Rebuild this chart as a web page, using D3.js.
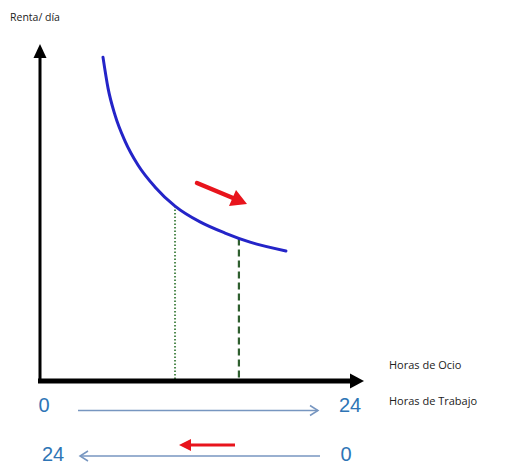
<!DOCTYPE html>
<html>
<head>
<meta charset="utf-8">
<script src="https://cdn.jsdelivr.net/npm/d3@7"></script>
<style>
  body { margin: 0; background: #fff; }
  svg { display: block; }
</style>
</head>
<body>
<div id="svg_container"></div>
<script>
// indifference curve (hours of leisure vs income index)
var curveHours = [4.86, 5.25, 5.79, 6.56, 7.56, 8.87, 10.42, 12.35, 14.28, 16.21, 18.98];
var curveIncome = [96.1, 86.9, 78.9, 71.2, 64.1, 57.6, 51.9, 47.2, 43.9, 41.2, 38.6];

// the two chosen points (dotted and dashed drop lines)
var dropHours = [10.42, 15.35];
var dropStyle = ['dotted', 'dashed'];

var ocioTicks = [0, 24];
var trabajoTicks = [24, 0];

var width = 506, height = 468;

var svg = d3.select('#svg_container')
  .append('svg')
    .attr('width', width)
    .attr('height', height);

var x = d3.scaleLinear().domain([0, 24]).range([40, 351]);
var y = d3.scaleLinear().domain([0, 100]).range([381, 44]);

var curveData = curveHours.map(function(h, i) { return { h: h, v: curveIncome[i] }; });

var line = d3.line()
    .x(function(d) { return x(d.h); })
    .y(function(d) { return y(d.v); })
    .curve(d3.curveMonotoneX);

var path = svg.append('path')
    .datum(curveData)
    .attr('fill', 'none')
    .attr('stroke', '#2424c8')
    .attr('stroke-width', 3)
    .attr('stroke-linecap', 'round')
    .attr('d', line);

// height of the drawn curve at a given pixel x
function curveYAt(px) {
  var node = path.node(), len = node.getTotalLength();
  var lo = 0, hi = len;
  for (var k = 0; k < 40; k++) {
    var mid = (lo + hi) / 2;
    if (node.getPointAtLength(mid).x < px) lo = mid; else hi = mid;
  }
  return node.getPointAtLength(lo).y;
}

// drop lines
svg.append('g')
  .selectAll('line')
  .data(dropHours)
  .enter().append('line')
    .attr('x1', function(d) { return x(d); })
    .attr('x2', function(d) { return x(d); })
    .attr('y1', function(d) { return curveYAt(x(d)); })
    .attr('y2', y(0))
    .attr('stroke', function(d, i) { return dropStyle[i] == 'dotted' ? '#4f8a4f' : '#2f5f2f'; })
    .attr('stroke-width', function(d, i) { return dropStyle[i] == 'dotted' ? 2 : 2.2; })
    .attr('stroke-dasharray', function(d, i) { return dropStyle[i] == 'dotted' ? '1.5,2' : '7,4'; });

path.raise();

// axes
svg.append('line')
    .attr('x1', x(0)).attr('x2', x(0))
    .attr('y1', y(0) + 2).attr('y2', y(100) + 10)
    .attr('stroke', '#000').attr('stroke-width', 3);
svg.append('path')
    .attr('d', 'M' + x(0) + ',' + y(100) + 'l-6.5,14h13z')
    .attr('fill', '#000');

svg.append('line')
    .attr('x1', x(0) - 2).attr('x2', 352)
    .attr('y1', y(0)).attr('y2', y(0))
    .attr('stroke', '#000').attr('stroke-width', 5);
svg.append('path')
    .attr('d', 'M364,' + y(0) + 'l-14,-7.5v15z')
    .attr('fill', '#000');

// red direction arrows
svg.append('line')
    .attr('x1', 197).attr('y1', 183)
    .attr('x2', 233).attr('y2', 198)
    .attr('stroke', '#e8141c').attr('stroke-width', 4.5).attr('stroke-linecap', 'round');
svg.append('path')
    .attr('d', 'M247,204 L236,190 L229,206 Z')
    .attr('fill', '#e8141c');

svg.append('line')
    .attr('x1', 235).attr('y1', 445)
    .attr('x2', 190).attr('y2', 445)
    .attr('stroke', '#e8141c').attr('stroke-width', 3);
svg.append('path')
    .attr('d', 'M179,445 l12,-6 v12 z')
    .attr('fill', '#e8141c');

// axis captions
svg.append('text')
    .attr('x', 10).attr('y', 21)
    .attr('font-family', 'Open Sans, sans-serif')
    .attr('font-size', 10.5)
    .attr('fill', '#222')
    .text('Renta/ día');

svg.append('text')
    .attr('x', 389).attr('y', 369)
    .attr('font-family', 'Open Sans, sans-serif')
    .attr('font-size', 11)
    .attr('fill', '#222')
    .text('Horas de Ocio');

svg.append('text')
    .attr('x', 389).attr('y', 405)
    .attr('font-family', 'Open Sans, sans-serif')
    .attr('font-size', 11)
    .attr('fill', '#222')
    .text('Horas de Trabajo');

// hour scales below the axis
var blue = '#2e75b6';
var rowY = [412, 461];
var rows = [ocioTicks, trabajoTicks];
var rowOffset = [[4, -1], [13, -5]];

rows.forEach(function(ticks, r) {
  svg.append('g')
    .selectAll('text')
    .data(ticks)
    .enter().append('text')
      .attr('x', function(d, i) { return x(i == 0 ? 0 : 24) + rowOffset[r][i]; })
      .attr('y', rowY[r])
      .attr('text-anchor', 'middle')
      .attr('font-family', 'Liberation Sans, Arial, sans-serif')
      .attr('font-size', 20)
      .attr('fill', blue)
      .text(function(d) { return d; });
});

var arrowColor = '#7796c0';
var arrowRows = [{ y: 410.5, from: 78, to: 318 }, { y: 456, from: 320, to: 80 }];
arrowRows.forEach(function(a) {
  svg.append('line')
      .attr('x1', a.from).attr('x2', a.to)
      .attr('y1', a.y).attr('y2', a.y)
      .attr('stroke', arrowColor).attr('stroke-width', 1.5);
  var dir = a.to > a.from ? -1 : 1;
  svg.append('path')
      .attr('d', 'M' + (a.to + dir * 8) + ',' + (a.y - 5) + 'L' + a.to + ',' + a.y + 'L' + (a.to + dir * 8) + ',' + (a.y + 5))
      .attr('fill', 'none')
      .attr('stroke', arrowColor).attr('stroke-width', 1.5);
});
</script>
</body>
</html>
